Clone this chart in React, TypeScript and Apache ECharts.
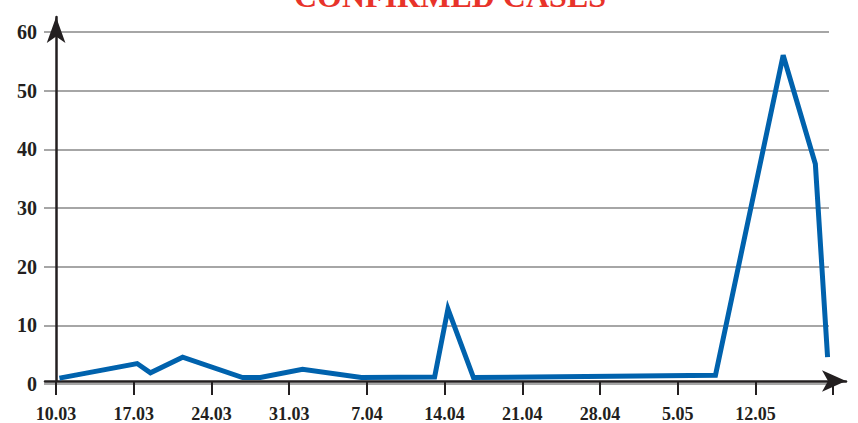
import React, { useEffect, useRef } from "react";
import * as echarts from "echarts";

const titleText = "CONFIRMED CASES";
const tickDays = [0, 7, 14, 21, 28, 35, 42, 49, 56, 63, 70];
const tickLabels = ["10.03", "17.03", "24.03", "31.03", "7.04", "14.04", "21.04", "28.04", "5.05", "12.05", ""];
const yTicks = [0, 10, 20, 30, 40, 50, 60];
const days = [0.3, 7.3, 8.5, 11.4, 16.8, 18.4, 22.2, 27.5, 34.1, 35.3, 37.6, 59.4, 65.5, 68.4, 69.5];
const cases = [0.5, 3.0, 1.4, 4.1, 0.6, 0.6, 2.0, 0.6, 0.7, 12.4, 0.6, 1.0, 56, 37.3, 4.1];

const FONT = "'Liberation Serif', 'Times New Roman', serif";
const INK = "#231f20";

export default function App() {
  const ref = useRef<HTMLDivElement>(null);
  useEffect(() => {
    if (!ref.current) return;
    const chart = echarts.init(ref.current, null, { renderer: "svg" });
    const labelDays = tickDays.filter((_, i) => tickLabels[i] !== "");
    chart.setOption({
      animation: false,
      backgroundColor: "#ffffff",
      graphic: [
        {
          type: "text",
          x: 450,
          y: -4,
          style: {
            text: titleText,
            font: `bold 32px ${FONT}`,
            fill: "#e8332a",
            textAlign: "center",
            textVerticalAlign: "middle",
          },
        },
      ],
      grid: [
        { left: 44, right: 29, top: 32, bottom: 39, containLabel: false },
        { left: 45, right: 12, top: 17, bottom: 39, containLabel: false },
      ],
      xAxis: [
        { type: "value", gridIndex: 0, min: 0, max: 1, show: false },
        {
          type: "value",
          gridIndex: 1,
          min: -1,
          max: 71.16,
          splitLine: { show: false },
          axisLine: {
            show: true,
            onZero: false,
            lineStyle: { color: INK, width: 2.5 },
            symbol: ["none", "arrow"],
            symbolSize: [16, 24],
          },
          axisTick: {
            show: true,
            customValues: tickDays,
            length: 14,
            inside: false,
            lineStyle: { color: INK, width: 2 },
          },
          axisLabel: {
            show: true,
            customValues: labelDays,
            formatter: (v: number) => {
              const i = tickDays.indexOf(Math.round(v));
              return i >= 0 ? tickLabels[i] : "";
            },
            fontFamily: FONT,
            fontWeight: "bold",
            fontSize: 18,
            color: INK,
            margin: 24,
          },
        },
      ],
      yAxis: [
        {
          type: "value",
          gridIndex: 0,
          min: yTicks[0],
          max: yTicks[yTicks.length - 1],
          interval: 10,
          axisLine: { show: false },
          axisTick: { show: false },
          splitLine: { show: true, lineStyle: { color: "#a6a6a6", width: 2 } },
          axisLabel: {
            fontFamily: FONT,
            fontWeight: "bold",
            fontSize: 20,
            color: INK,
            margin: 7,
          },
        },
        {
          type: "value",
          gridIndex: 1,
          min: 0,
          max: 62.56,
          splitLine: { show: false },
          axisTick: { show: false },
          axisLabel: { show: false },
          axisLine: {
            show: true,
            onZero: true,
            lineStyle: { color: INK, width: 2.5 },
            symbol: ["none", "arrow"],
            symbolSize: [14, 26],
          },
        },
      ],
      series: [
        {
          type: "line",
          xAxisIndex: 1,
          yAxisIndex: 1,
          data: days.map((d, i) => [d, cases[i]]),
          symbol: "none",
          lineStyle: { color: "#0062ad", width: 5, join: "miter", cap: "butt" },
          z: 1,
        },
      ],
    });
    return () => chart.dispose();
  }, []);
  return <div ref={ref} style={{ width: 858, height: 423, position: "absolute", left: 0, top: 0 }} />;
}
